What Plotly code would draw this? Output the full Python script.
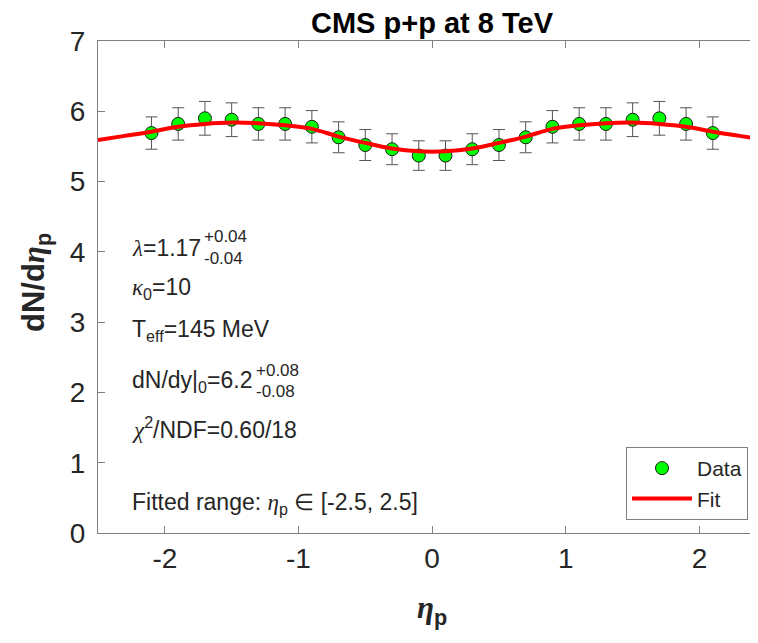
import plotly.graph_objects as go

# --------------------------------------------------------------------------
# DATA
# --------------------------------------------------------------------------
eta = [-2.1, -1.9, -1.7, -1.5, -1.3, -1.1, -0.9, -0.7, -0.5, -0.3, -0.1,
       0.1, 0.3, 0.5, 0.7, 0.9, 1.1, 1.3, 1.5, 1.7, 1.9, 2.1]
dndeta = [5.69, 5.82, 5.90, 5.88, 5.82, 5.82, 5.78, 5.63, 5.52, 5.46, 5.37,
          5.37, 5.46, 5.52, 5.63, 5.78, 5.82, 5.82, 5.88, 5.90, 5.82, 5.69]
dndeta_err = [0.23, 0.23, 0.24, 0.24, 0.23, 0.23, 0.23, 0.22, 0.22, 0.22, 0.21,
              0.21, 0.22, 0.22, 0.22, 0.23, 0.23, 0.23, 0.24, 0.24, 0.23, 0.23]

fit_eta = [-2.5, -2.3, -2.1, -1.9, -1.7, -1.5, -1.3, -1.1, -0.9, -0.7, -0.5,
           -0.3, -0.1, 0.1, 0.3, 0.5, 0.7, 0.9, 1.1, 1.3, 1.5, 1.7, 1.9, 2.1,
           2.3, 2.5]
fit_val = [5.59, 5.65, 5.71, 5.78, 5.82, 5.84, 5.83, 5.80, 5.75, 5.64, 5.55,
           5.47, 5.43, 5.43, 5.47, 5.55, 5.64, 5.75, 5.80, 5.83, 5.84, 5.82,
           5.78, 5.71, 5.65, 5.59]

x_ticks = [-2, -1, 0, 1, 2]
x_labels = ["-2", "-1", "0", "1", "2"]
y_ticks = [0, 1, 2, 3, 4, 5, 6, 7]

# --------------------------------------------------------------------------
# STYLE
# --------------------------------------------------------------------------
FONT = "Liberation Sans, Arial, sans-serif"
C_TXT = "#262626"
C_AX = "#808080"
GREEK = "<span style='font-family:Liberation Serif;font-style:italic'>%s</span>"

# page offset of the figure inside the html body
OFF = 8
W, H = 758 - OFF, 643 - OFF
# plot area in screen pixels: left 98, right 758, top 41, bottom 533
L, R, T, B = 98, 758, 41, 533


def px(x):
    return (x - L) / (R - L)


def py(y):
    return (B - y) / (B - T)


fig = go.Figure()

fig.add_trace(
    go.Scatter(
        x=eta,
        y=dndeta,
        mode="markers",
        name="Data",
        marker=dict(size=13, color="#00FF00", line=dict(color="#1a1a1a", width=1)),
        error_y=dict(type="data", array=dndeta_err, color="#555555",
                     thickness=1, width=6),
    )
)

fig.add_trace(
    go.Scatter(
        x=fit_eta,
        y=fit_val,
        mode="lines",
        name="Fit",
        line=dict(color="#FF0000", width=4, shape="spline", smoothing=1.0),
    )
)

# --- text block on the left ---
ann = []


def txt(x, y, s, size=23, **kw):
    ann.append(dict(xref="paper", yref="paper", x=px(x), y=py(y), text=s,
                    showarrow=False, xanchor="left", yanchor="middle",
                    font=dict(family=FONT, size=size, color=C_TXT), **kw))


txt(130, 248, (GREEK % "λ") + "=1.17")
txt(202, 237, "+0.04", size=17)
txt(202, 258, "-0.04", size=17)
txt(130, 288, (GREEK % "κ") + "<sub>0</sub>=10")
txt(130, 331, "T<sub>eff</sub>=145 MeV")
txt(130, 381, "dN/dy|<sub>0</sub>=6.2")
txt(254, 370, "+0.08", size=17)
txt(254, 391, "-0.08", size=17)
txt(130, 428, (GREEK % "χ") + "<sup>2</sup>/NDF=0.60/18")
txt(130, 503, "Fitted range: " + (GREEK % "η") + "<sub>p</sub> ∈ [-2.5, 2.5]")

# title and axis titles
ann.append(dict(xref="x", yref="paper", x=0, y=py(23), text="<b>CMS p+p at 8 TeV</b>",
                showarrow=False, xanchor="center", yanchor="middle",
                font=dict(family=FONT, size=29, color="#000000")))
ann.append(dict(xref="paper", yref="paper", x=px(36), y=py(283),
                text="<b>dN/d" + (GREEK % "η") + "<sub>p</sub></b>", textangle=-90,
                showarrow=False, xanchor="center", yanchor="middle",
                font=dict(family=FONT, size=31, color=C_TXT)))
ann.append(dict(xref="x", yref="paper", x=0, y=py(610),
                text="<b>" + (GREEK % "η") + "<sub>p</sub></b>",
                showarrow=False, xanchor="center", yanchor="middle",
                font=dict(family=FONT, size=31, color=C_TXT)))

fig.update_layout(
    width=W,
    height=H,
    margin=dict(l=L - OFF, r=758 - R, t=T - OFF, b=643 - B, pad=0),
    paper_bgcolor="white",
    plot_bgcolor="white",
    font=dict(family=FONT, color=C_TXT),
    showlegend=True,
    legend=dict(
        x=px(748), y=py(447), xanchor="right", yanchor="top",
        bordercolor=C_AX, borderwidth=1, bgcolor="white",
        font=dict(family=FONT, size=21, color=C_TXT),
        itemwidth=60, tracegroupgap=0,
    ),
    xaxis=dict(
        range=[-2.5, 2.438], tickvals=x_ticks, ticktext=x_labels,
        ticks="inside", ticklen=7,
        tickcolor=C_AX, showline=True, linecolor=C_AX, linewidth=1,
        mirror="ticks", showgrid=False, zeroline=False,
        tickfont=dict(family=FONT, size=28, color=C_TXT),
    ),
    yaxis=dict(
        range=[0, 7], tickvals=y_ticks, ticks="inside", ticklen=7,
        tickcolor=C_AX, showline=True, linecolor=C_AX, linewidth=1,
        showgrid=False, zeroline=False, ticklabelstandoff=6,
        tickfont=dict(family=FONT, size=28, color=C_TXT),
    ),
    annotations=ann,
)

fig.write_html("out.html")
